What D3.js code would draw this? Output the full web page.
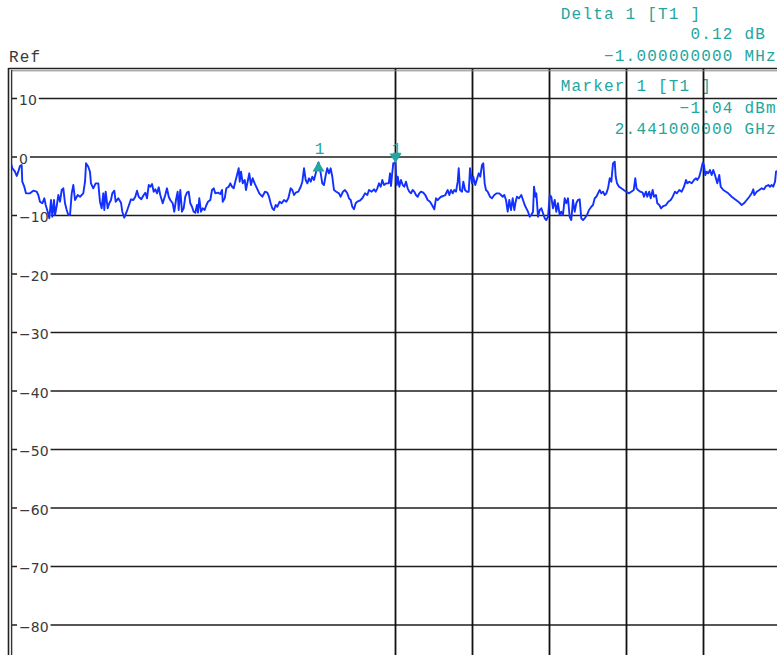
<!DOCTYPE html>
<html>
<head>
<meta charset="utf-8">
<script src="https://cdn.jsdelivr.net/npm/d3@7"></script>
<style>
  html, body { margin: 0; padding: 0; background: #fff; }
  svg { display: block; }
  .mono { font-family: "Liberation Mono", "Courier New", monospace; font-size: 16px; letter-spacing: 1.2px; }
  .tick { font-family: "DejaVu Sans", Verdana, sans-serif; font-size: 14px; fill: #3a3a3a; }
</style>
</head>
<body>
<svg id="chart" width="777" height="655"></svg>
<script>
// ---- sweep settings ----
const startMHz = 2436;
const spanMHz = 10;
const refTopDbm = 15;
const refBottomDbm = -85;
const levelTicks = [10, 0, -10, -20, -30, -40, -50, -60, -70, -80];
const freqGridMHz = [2441, 2442, 2443, 2444, 2445];

// ---- marker readout ----
const marker1MHz = 2441;
const marker1Dbm = -1.04;
const deltaDb = 0.12;
const deltaMHz = -1;

// ---- trace: offset from start frequency (MHz) and level (dBm) ----
const traceOffsetMHz = [
  0.000, 0.023, 0.058, 0.081, 0.101, 0.123, 0.145, 0.153, 0.179, 0.201,
  0.253, 0.296, 0.340, 0.361, 0.383, 0.413, 0.439, 0.457, 0.483, 0.504,
  0.526, 0.543, 0.565, 0.578, 0.600, 0.621, 0.643, 0.665, 0.686, 0.708,
  0.730, 0.751, 0.773, 0.795, 0.816, 0.838, 0.873, 0.903, 0.945, 0.968,
  0.981, 1.010, 1.032, 1.045, 1.075, 1.106, 1.140, 1.162, 1.184, 1.205,
  1.218, 1.236, 1.262, 1.283, 1.305, 1.322, 1.348, 1.366, 1.400, 1.435,
  1.452, 1.478, 1.509, 1.539, 1.565, 1.595, 1.621, 1.643, 1.665, 1.699,
  1.730, 1.751, 1.773, 1.795, 1.816, 1.838, 1.860, 1.881, 1.903, 1.925,
  1.945, 1.977, 2.010, 2.032, 2.055, 2.075, 2.106, 2.127, 2.149, 2.171,
  2.184, 2.205, 2.227, 2.249, 2.270, 2.292, 2.314, 2.335, 2.357, 2.379,
  2.400, 2.422, 2.435, 2.452, 2.474, 2.496, 2.522, 2.539, 2.565, 2.595,
  2.617, 2.639, 2.660, 2.695, 2.725, 2.747, 2.756, 2.782, 2.803, 2.834,
  2.855, 2.877, 2.899, 2.919, 2.942, 2.964, 2.977, 2.994, 3.016, 3.042,
  3.058, 3.084, 3.101, 3.123, 3.145, 3.171, 3.201, 3.231, 3.270, 3.305,
  3.335, 3.357, 3.379, 3.400, 3.422, 3.444, 3.465, 3.496, 3.522, 3.552,
  3.582, 3.608, 3.639, 3.660, 3.682, 3.704, 3.738, 3.769, 3.790, 3.812,
  3.834, 3.855, 3.877, 3.899, 3.919, 3.942, 3.964, 3.984, 4.000, 4.029,
  4.049, 4.071, 4.094, 4.114, 4.136, 4.158, 4.179, 4.201, 4.231, 4.266,
  4.288, 4.318, 4.344, 4.374, 4.396, 4.418, 4.439, 4.461, 4.483, 4.504,
  4.535, 4.569, 4.604, 4.634, 4.656, 4.691, 4.721, 4.743, 4.764, 4.786,
  4.808, 4.829, 4.851, 4.881, 4.912, 4.929, 4.942, 4.955, 4.971, 5.000,
  5.016, 5.029, 5.049, 5.071, 5.094, 5.114, 5.136, 5.158, 5.179, 5.201,
  5.223, 5.244, 5.266, 5.288, 5.309, 5.331, 5.361, 5.387, 5.418, 5.448,
  5.474, 5.504, 5.526, 5.548, 5.569, 5.591, 5.621, 5.647, 5.678, 5.699,
  5.721, 5.743, 5.764, 5.786, 5.808, 5.821, 5.838, 5.864, 5.881, 5.903,
  5.925, 5.951, 5.968, 5.994, 6.010, 6.036, 6.055, 6.081, 6.101, 6.123,
  6.140, 6.158, 6.175, 6.197, 6.227, 6.253, 6.283, 6.314, 6.348, 6.370,
  6.392, 6.413, 6.435, 6.457, 6.478, 6.500, 6.522, 6.543, 6.561, 6.577,
  6.604, 6.634, 6.656, 6.678, 6.699, 6.721, 6.743, 6.764, 6.786, 6.799,
  6.816, 6.829, 6.851, 6.873, 6.894, 6.916, 6.938, 6.958, 6.981, 7.003,
  7.023, 7.045, 7.068, 7.088, 7.110, 7.132, 7.153, 7.175, 7.197, 7.218,
  7.240, 7.262, 7.283, 7.305, 7.327, 7.348, 7.370, 7.392, 7.413, 7.435,
  7.457, 7.487, 7.513, 7.543, 7.565, 7.587, 7.608, 7.630, 7.652, 7.673,
  7.695, 7.717, 7.738, 7.760, 7.782, 7.803, 7.825, 7.847, 7.860, 7.877,
  7.903, 7.933, 7.964, 7.997, 8.032, 8.062, 8.094, 8.114, 8.130, 8.149,
  8.179, 8.210, 8.227, 8.253, 8.270, 8.296, 8.314, 8.340, 8.357, 8.383,
  8.400, 8.426, 8.448, 8.478, 8.513, 8.543, 8.574, 8.600, 8.630, 8.652,
  8.686, 8.717, 8.747, 8.773, 8.790, 8.816, 8.847, 8.877, 8.903, 8.919,
  8.945, 8.968, 8.990, 9.006, 9.023, 9.042, 9.062, 9.084, 9.106, 9.127,
  9.149, 9.179, 9.205, 9.223, 9.257, 9.292, 9.322, 9.366, 9.409, 9.452,
  9.496, 9.526, 9.561, 9.595, 9.626, 9.647, 9.660, 9.691, 9.725, 9.756,
  9.786, 9.812, 9.842, 9.864, 9.886, 9.906, 9.929, 9.942, 9.994
];
const traceLevelDbm = [
  -0.80, -1.88, -2.51, -3.25, -2.51, -1.54, -1.37, -4.22, -5.08, -6.21,
  -6.21, -5.76, -5.93, -6.50, -7.64, -7.91, -7.06, -8.21, -9.35, -10.48,
  -7.35, -10.21, -7.35, -9.91, -8.38, -6.50, -7.64, -5.64, -5.35, -7.91,
  -9.06, -9.91, -9.91, -6.21, -4.79, -7.35, -6.50, -6.79, -6.21, -4.22,
  -1.08, -1.66, -2.51, -4.50, -5.35, -4.50, -4.50, -7.64, -8.77, -6.21,
  -9.06, -5.93, -8.77, -7.91, -7.35, -6.21, -5.76, -7.64, -7.06, -7.81,
  -9.35, -10.38, -9.35, -8.21, -7.23, -7.35, -6.79, -5.76, -6.79, -7.23,
  -6.50, -6.10, -7.06, -4.79, -5.08, -4.62, -5.93, -5.52, -6.21, -5.18,
  -6.50, -7.91, -6.50, -5.35, -6.79, -7.35, -7.91, -9.35, -7.35, -5.93,
  -9.06, -5.64, -9.35, -8.77, -6.79, -6.10, -5.93, -7.91, -8.50, -9.35,
  -9.52, -8.21, -9.52, -7.06, -9.35, -8.77, -9.06, -8.38, -7.64, -7.35,
  -5.64, -5.35, -6.21, -6.10, -6.32, -5.64, -7.64, -7.06, -5.35, -5.08,
  -4.50, -5.08, -5.35, -4.22, -3.08, -1.93, -4.22, -2.51, -4.50, -3.93,
  -5.64, -3.93, -2.79, -4.79, -3.64, -4.50, -5.35, -6.21, -6.79, -5.93,
  -6.10, -6.79, -7.91, -8.77, -9.06, -8.21, -8.50, -7.64, -7.91, -7.35,
  -7.64, -7.06, -5.35, -5.64, -6.50, -6.10, -5.93, -5.08, -4.22, -1.93,
  -3.93, -4.50, -3.64, -4.22, -3.37, -3.93, -2.79, -1.50, -0.92, -2.79,
  -4.50, -4.79, -3.08, -1.93, -2.79, -1.93, -3.37, -5.64, -5.93, -6.21,
  -6.79, -5.93, -5.64, -6.21, -7.06, -7.35, -8.50, -8.94, -7.91, -7.64,
  -7.47, -7.06, -6.21, -6.50, -5.64, -5.93, -5.52, -5.93, -5.35, -4.50,
  -5.08, -3.93, -4.79, -4.50, -4.50, -2.79, -4.96, -3.08, -1.08, -1.04,
  -4.79, -3.37, -5.08, -3.93, -4.79, -5.08, -4.22, -5.35, -5.93, -6.21,
  -5.64, -5.93, -6.50, -6.79, -6.21, -5.93, -6.10, -6.50, -7.35, -7.64,
  -8.21, -8.94, -7.06, -7.35, -7.06, -6.79, -6.67, -6.50, -5.64, -6.50,
  -5.64, -6.21, -5.64, -5.93, -4.22, -1.93, -5.64, -5.93, -4.22, -5.64,
  -5.93, -5.93, -1.93, -4.50, -3.37, -4.79, -3.93, -2.79, -3.37, -1.37,
  -1.08, -4.50, -5.64, -5.93, -6.79, -7.06, -6.50, -6.21, -6.21, -6.50,
  -6.79, -6.50, -7.35, -9.35, -7.35, -9.06, -7.06, -9.06, -7.64, -6.79,
  -7.06, -6.50, -7.35, -8.21, -8.77, -9.35, -10.21, -9.91, -9.35, -5.08,
  -6.79, -6.21, -10.21, -9.06, -8.77, -9.62, -10.48, -10.77, -10.21, -6.50,
  -6.79, -8.77, -7.35, -9.35, -7.91, -9.91, -9.35, -9.91, -7.06, -7.91,
  -7.06, -10.21, -10.77, -7.35, -9.35, -7.91, -7.35, -7.23, -10.48, -10.77,
  -10.48, -9.91, -9.06, -8.50, -8.21, -7.06, -6.79, -6.21, -5.64, -6.21,
  -5.93, -6.50, -6.21, -5.35, -3.64, -4.22, -1.08, -0.80, -3.37, -4.50,
  -5.08, -5.35, -5.64, -5.93, -6.21, -5.93, -5.64, -3.64, -5.35, -5.64,
  -5.93, -6.10, -6.79, -5.93, -6.79, -5.93, -7.06, -5.64, -6.79, -6.50,
  -7.91, -8.21, -8.77, -8.38, -8.21, -7.64, -7.35, -6.79, -5.93, -6.21,
  -5.64, -5.93, -5.08, -3.93, -4.50, -4.22, -4.50, -3.93, -3.64, -3.93,
  -3.37, -2.22, -0.97, -1.37, -3.08, -2.51, -2.79, -2.22, -3.08, -2.22,
  -3.08, -4.50, -3.08, -5.08, -5.64, -5.93, -6.21, -6.79, -7.23, -7.64,
  -8.21, -7.91, -7.35, -6.79, -6.21, -5.52, -6.50, -5.93, -5.64, -5.35,
  -5.52, -4.96, -4.79, -5.08, -4.79, -5.08, -4.22, -2.51, -2.22
];

// ---- layout ----
const W = 777, H = 655;
const plot = { left: 10.5, right: 780.5, top: 69.25, bottom: 654.25 };
const teal = "#22a6a0";
const traceBlue = "#1230ff";
const gridColor = "#1e1e1e";

const svg = d3.select("#chart");

const x = d3.scaleLinear().domain([startMHz, startMHz + spanMHz]).range([plot.left, plot.right]);
const y = d3.scaleLinear().domain([refTopDbm, refBottomDbm]).range([plot.top, plot.bottom]);

// "Ref" caption above the graticule
svg.append("text").attr("class", "mono").attr("x", 9).attr("y", 61.5)
  .attr("fill", "#3a3a3a").text("Ref");

// marker readout block (monospace grid)
const fmtMHz = d3.format(".9f");
const readout = [
  { text: "Delta 1 [T1 ]", col: -4, base: 18.5 },
  { text: d3.format(".2f")(deltaDb) + " dB", col: 8, base: 39 },
  { text: (deltaMHz < 0 ? "\u2212" : "") + fmtMHz(Math.abs(deltaMHz)) + " MHz", col: 0, base: 60.5 },
  { text: "Marker 1 [T1 ]", col: -4, base: 91 },
  { text: (marker1Dbm < 0 ? "\u2212" : "") + d3.format(".2f")(Math.abs(marker1Dbm)) + " dBm", col: 7, base: 112.5 },
  { text: fmtMHz(marker1MHz / 1000) + " GHz", col: 1, base: 134 }
];
const colW = 10.8, col0 = 604;
svg.append("g").selectAll("text").data(readout).join("text")
  .attr("class", "mono")
  .attr("x", d => col0 + d.col * colW)
  .attr("y", d => d.base)
  .attr("fill", teal)
  .text(d => d.text);

// clip region for the trace
svg.append("defs").append("clipPath").attr("id", "plotClip")
  .append("rect").attr("x", 12).attr("y", 71).attr("width", W - 12).attr("height", H - 71);

// horizontal level graticule
const gridH = svg.append("g");
gridH.selectAll("line").data(levelTicks).join("line")
  .attr("x1", 12).attr("x2", W)
  .attr("y1", d => y(d)).attr("y2", d => y(d))
  .attr("stroke", gridColor).attr("stroke-width", 1.7);

// vertical frequency graticule
svg.append("g").selectAll("line").data(freqGridMHz).join("line")
  .attr("x1", d => x(d)).attr("x2", d => x(d))
  .attr("y1", 68).attr("y2", H)
  .attr("stroke", "#111").attr("stroke-width", 1.8);

// level labels with knock-out background
const labels = svg.append("g");
levelTicks.forEach(v => {
  const str = v < 0 ? "\u2212" + Math.abs(v) : String(v);
  const t = labels.append("text").attr("class", "tick")
    .attr("x", 19).attr("y", y(v) + 6.5).text(str);
  const w = t.node().getComputedTextLength();
  labels.insert("rect", "text").attr("x", 17).attr("y", y(v) - 6)
    .attr("width", w + 4).attr("height", 12).attr("fill", "#fff");
});

// frame (double border on top and left)
const frame = svg.append("g").attr("fill", "none");
frame.append("line").attr("x1", 8.5).attr("x2", W).attr("y1", 68.5).attr("y2", 68.5)
  .attr("stroke", "#222").attr("stroke-width", 1.6);
frame.append("line").attr("x1", 11.5).attr("x2", W).attr("y1", 70.8).attr("y2", 70.8)
  .attr("stroke", "#888").attr("stroke-width", 1);
frame.append("line").attr("x1", 8.5).attr("x2", 8.5).attr("y1", 68).attr("y2", H)
  .attr("stroke", "#222").attr("stroke-width", 1.6);
frame.append("line").attr("x1", 11.6).attr("x2", 11.6).attr("y1", 70).attr("y2", H)
  .attr("stroke", "#333").attr("stroke-width", 1.4);

// trace
const traceData = traceOffsetMHz.map((f, i) => ({ f: startMHz + f, v: traceLevelDbm[i] }));
svg.append("path")
  .datum(traceData)
  .attr("clip-path", "url(#plotClip)")
  .attr("fill", "none")
  .attr("stroke", traceBlue)
  .attr("stroke-width", 1.9)
  .attr("stroke-linejoin", "round")
  .attr("d", d3.line().x(d => x(d.f)).y(d => y(d.v)));

// markers: reference marker (down) and delta marker (up)
const markers = [
  { f: marker1MHz, v: marker1Dbm, dir: "down" },
  { f: marker1MHz + deltaMHz, v: marker1Dbm + deltaDb, dir: "up" }
];
const mk = svg.append("g");
markers.forEach(m => {
  const mx = x(m.f), my = y(m.v);
  const pts = m.dir === "down"
    ? [[mx - 6, my - 9.5], [mx + 6, my - 9.5], [mx, my]]
    : [[mx, my - 1], [mx - 6, my + 9], [mx + 6, my + 9]];
  mk.append("polygon").attr("points", pts.map(p => p.join(",")).join(" ")).attr("fill", teal);
  mk.append("text").attr("class", "mono").attr("x", mx + 1).attr("y", 153.5)
    .attr("text-anchor", "middle").attr("fill", teal).style("letter-spacing", "0px").text("1");
});
</script>
</body>
</html>
